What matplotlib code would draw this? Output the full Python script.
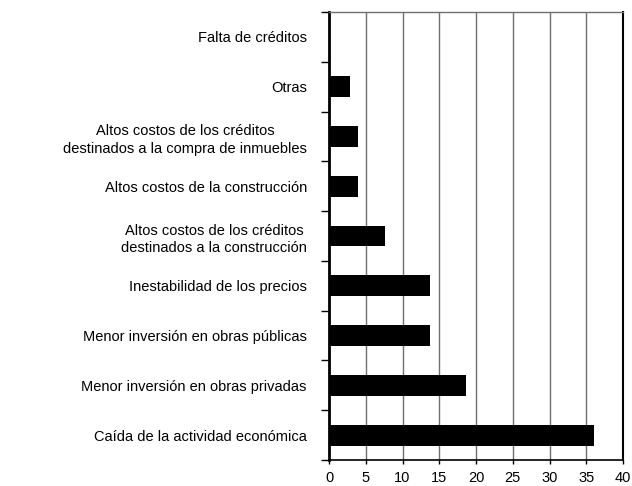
import numpy as np
import matplotlib.pyplot as plt

plt.rcParams['font.family'] = ['Liberation Sans', 'DejaVu Sans']

# data, bottom to top
labels = [
    'Caída de la actividad económica',
    'Menor inversión en obras privadas',
    'Menor inversión en obras públicas',
    'Inestabilidad de los precios',
    'Altos costos de los créditos\ndestinados a la construcción',
    'Altos costos de la construcción',
    'Altos costos de los créditos\ndestinados a la compra de inmuebles',
    'Otras',
    'Falta de créditos',
]
values = [36.1, 18.6, 13.8, 13.8, 7.6, 3.9, 3.9, 2.9, 0.0]
xticks = [0, 5, 10, 15, 20, 25, 30, 35, 40]

fig = plt.figure(figsize=(6.32, 4.86), dpi=100)
ax = fig.add_axes([0.5206, 0.0535, 0.4652, 0.9218])

y = np.arange(len(labels))
ax.barh(y, values, height=0.42, color='black', zorder=3)

ax.set_xlim(0, 40)
ax.set_ylim(-0.5, len(labels) - 0.5)

ax.set_xticks(xticks)
ax.set_xticklabels([str(v) for v in xticks], fontsize=10.5)
ax.xaxis.grid(True, color='#707070', linewidth=1.0, zorder=0)

# y ticks sit on the category boundaries, labels in the middle
ax.set_yticks(np.arange(len(labels) + 1) - 0.5)
ax.set_yticklabels([])
ax.set_yticks(y, minor=True)
ax.set_yticklabels(labels, minor=True, fontsize=10.5, multialignment='center',
                   linespacing=1.35)
ax.tick_params(axis='y', which='minor', length=0, pad=16)
ax.tick_params(axis='y', which='major', length=6, width=1, color='black')
ax.tick_params(axis='x', length=3, width=1, pad=5)

ax.spines['left'].set_linewidth(2)
ax.spines['bottom'].set_linewidth(1.2)
ax.spines['right'].set_linewidth(1.5)
ax.spines['top'].set_linewidth(1)
ax.spines['top'].set_color('#707070')

fig.savefig('out.png', dpi=100)
